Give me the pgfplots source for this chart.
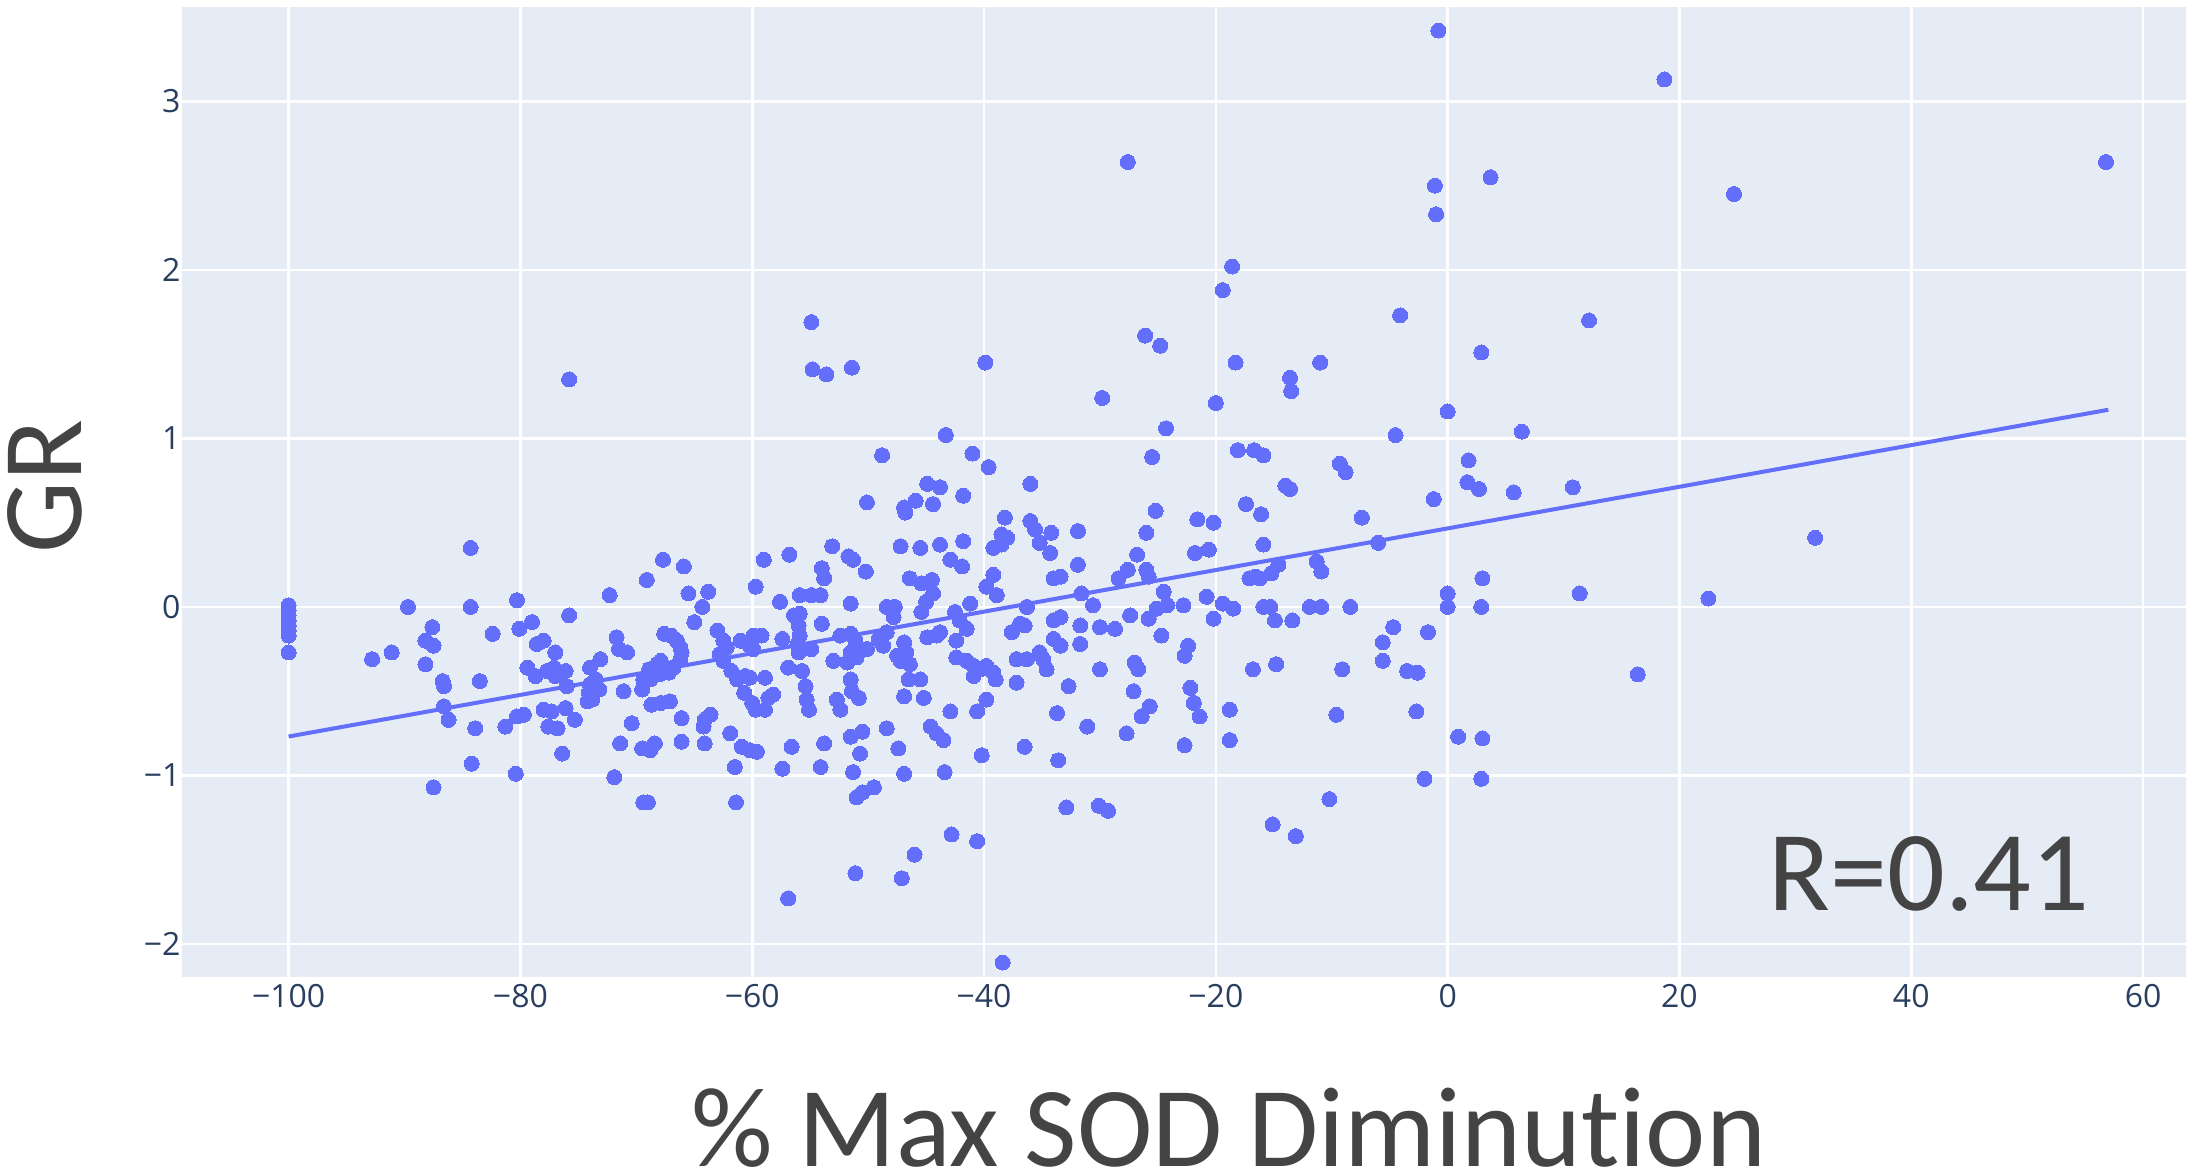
\documentclass[border=0pt]{standalone}
\usepackage{fontspec}
\setmainfont{Carlito}[Ligatures={NoCommon}]
\newfontfamily\tickfont{Open Sans}
\usepackage{pgfplots}
\pgfplotsset{compat=1.18}
\definecolor{bgc}{HTML}{E5ECF6}
\definecolor{dotc}{HTML}{636EFA}
\definecolor{tickc}{HTML}{2A3F5F}
\definecolor{labc}{HTML}{444444}
\begin{document}
\begin{tikzpicture}
\useasboundingbox (-91pt,-98.5pt) rectangle (1004pt,488.5pt);
\begin{axis}[
  scale only axis, width=1002pt, height=485pt,
  xmin=-109.2, xmax=63.7, ymin=-2.196, ymax=3.56,
  axis background/.style={fill=bgc},
  axis line style={draw=none},
  major tick length=0pt,
  grid=major, grid style={white, line width=1.3pt},
  xtick={-100,-80,-60,-40,-20,0,20,40,60},
  xticklabels={−100,−80,−60,−40,−20,0,20,40,60},
  ytick={-2,-1,0,1,2,3},
  yticklabels={−2,−1,0,1,2,3},
  ticklabel style={font=\tickfont\fontsize{16}{16}\selectfont, text=tickc},
  yticklabel style={xshift=2.8pt},
]
\addplot[color=dotc, only marks, mark=*, mark size=3.75pt, mark options={draw=dotc, fill=dotc, line width=0pt}] coordinates {
(-100,0.01)(-100,-0.02)(-100,-0.05)(-100,-0.08)(-100,-0.11)(-100,-0.14)(-100,-0.17)(-100,-0.27)
(-84.3,0.35)(-89.7,0.0)(-84.3,0.0)(-80.3,0.04)(-72.3,0.07)(-69.1,0.16)(-67.7,0.28)(-65.9,0.24)(-65.5,0.08)(-63.8,0.09)(-64.3,0.0)(-65.0,-0.09)
(-87.6,-0.12)(-88.2,-0.20)(-87.5,-0.23)(-92.8,-0.31)(-91.1,-0.27)(-88.2,-0.34)(-86.7,-0.44)(-86.6,-0.47)(-86.6,-0.59)(-86.2,-0.67)(-83.5,-0.44)(-82.4,-0.16)(-75.8,-0.05)(-83.9,-0.72)(-84.2,-0.93)(-81.3,-0.71)(-80.3,-0.65)(-79.7,-0.64)(-80.4,-0.99)(-80.1,-0.13)(-79.0,-0.09)(-78.6,-0.22)(-78.0,-0.20)(-77.0,-0.27)(-79.4,-0.36)(-78.7,-0.41)(-77.7,-0.38)(-77.1,-0.36)(-77.0,-0.41)(-76.1,-0.38)(-76.0,-0.47)(-78.0,-0.61)(-77.3,-0.62)(-77.6,-0.71)(-76.8,-0.72)(-76.4,-0.87)(-76.1,-0.60)(-75.3,-0.67)(-74.2,-0.56)(-70.4,-0.69)(-71.9,-1.01)
(-71.5,-0.25)(-70.8,-0.27)(-71.7,-0.18)(-73.1,-0.31)(-74.0,-0.36)(-73.5,-0.43)(-74.0,-0.46)(-73.2,-0.49)(-74.1,-0.51)(-73.8,-0.55)(-71.4,-0.81)(-69.5,-0.84)(-68.8,-0.85)(-68.4,-0.81)(-71.1,-0.50)
(-69.4,-0.43)(-69.5,-0.49)(-68.9,-0.37)(-68.2,-0.34)(-67.9,-0.32)(-67.6,-0.37)(-68.0,-0.40)(-67.2,-0.39)(-68.8,-0.43)
(-67.6,-0.16)(-67.0,-0.17)(-66.5,-0.20)(-66.2,-0.24)(-66.1,-0.27)(-66.2,-0.31)(-66.8,-0.36)(-68.7,-0.58)(-67.9,-0.57)(-67.1,-0.56)(-66.1,-0.66)(-64.1,-0.67)(-63.6,-0.64)(-64.2,-0.71)(-66.1,-0.80)(-64.1,-0.81)
(-63.0,-0.14)(-62.5,-0.20)(-62.2,-0.24)(-62.8,-0.28)(-62.5,-0.32)(-61.8,-0.38)(-61.3,-0.43)(-61.9,-0.75)(-61.5,-0.95)
(-75.8,1.35)(-87.5,-1.07)(-69.4,-1.16)(-69.0,-1.16)(-61.4,-1.16)
(-44.9,0.73)(-43.8,0.71)(-36.0,0.73)(-50.1,0.62)(-46.9,0.59)(-46.8,0.56)(-45.9,0.63)(-44.4,0.61)(-41.8,0.66)(-25.2,0.57)(-21.6,0.52)(-20.2,0.50)
(-38.2,0.53)(-36.0,0.51)(-35.6,0.46)(-34.2,0.44)(-31.9,0.45)(-26.0,0.44)(-59.0,0.28)(-56.8,0.31)(-53.1,0.36)(-51.7,0.30)(-51.3,0.28)(-54.0,0.23)(-53.8,0.17)(-50.2,0.21)(-47.2,0.36)(-45.5,0.35)(-43.8,0.37)(-41.8,0.39)(-42.9,0.28)(-41.9,0.24)(-39.2,0.35)(-38.5,0.37)(-38.0,0.41)(-38.5,0.43)(-35.2,0.38)(-34.3,0.32)(-39.2,0.19)(-39.8,0.12)(-38.9,0.07)(-34.0,0.17)(-33.4,0.18)(-31.9,0.25)(-28.4,0.17)(-27.6,0.22)(-26.8,0.31)(-26.0,0.22)(-25.8,0.18)(-21.8,0.32)(-20.6,0.34)
(-59.7,0.12)(-57.6,0.03)(-55.9,0.07)(-54.9,0.07)(-54.1,0.07)(-51.5,0.02)(-46.4,0.17)(-45.4,0.14)(-44.5,0.16)(-44.4,0.08)(-45.0,0.03)(-45.4,-0.03)(-48.4,0.00)(-47.7,0.00)(-47.8,-0.06)(-41.2,0.02)(-42.5,-0.03)(-42.1,-0.08)(-36.3,0.00)(-31.6,0.08)(-30.6,0.01)(-27.4,-0.05)(-24.5,0.09)(-24.2,0.01)(-25.1,-0.01)(-22.8,0.01)(-20.8,0.06)(-20.2,-0.07)
(-25.8,-0.07)(-30.0,-0.12)(-28.7,-0.13)(-31.7,-0.11)(-31.7,-0.22)(-34.0,-0.08)(-33.4,-0.06)(-34.0,-0.19)(-33.4,-0.23)(-37.6,-0.15)(-36.9,-0.10)(-36.5,-0.11)(-24.7,-0.17)(-22.4,-0.23)(-22.7,-0.29)
(-56.4,-0.05)(-55.9,-0.04)(-56.0,-0.11)(-55.9,-0.17)(-56.1,-0.22)(-56.0,-0.27)(-54.0,-0.10)(-54.9,-0.25)(-57.4,-0.19)(-59.9,-0.17)(-59.2,-0.17)(-60.2,-0.23)(-59.9,-0.25)
(-52.4,-0.17)(-51.5,-0.16)(-51.1,-0.20)(-50.8,-0.25)(-50.1,-0.25)(-51.5,-0.27)(-51.0,-0.30)(-53.0,-0.32)(-51.8,-0.33)(-51.5,-0.43)(-51.4,-0.50)(-50.8,-0.54)(-52.7,-0.55)(-52.4,-0.61)
(-49.1,-0.19)(-48.7,-0.23)(-48.4,-0.15)(-46.9,-0.21)(-46.7,-0.27)(-47.5,-0.29)(-47.2,-0.32)(-46.4,-0.34)(-46.5,-0.43)(-45.5,-0.43)(-46.9,-0.53)(-45.2,-0.54)
(-44.9,-0.18)(-44.1,-0.17)(-43.8,-0.15)(-42.4,-0.20)(-41.5,-0.13)
(-42.4,-0.30)(-41.5,-0.32)(-40.9,-0.35)(-40.3,-0.37)(-39.8,-0.35)(-39.2,-0.39)(-40.9,-0.41)(-39.0,-0.43)(-39.8,-0.55)(-40.6,-0.62)(-42.9,-0.62)
(-37.2,-0.31)(-36.3,-0.31)(-35.2,-0.27)(-34.9,-0.31)(-34.6,-0.37)(-37.2,-0.45)(-32.7,-0.47)(-33.7,-0.63)(-31.1,-0.71)(-36.5,-0.83)(-33.6,-0.91)(-30.0,-0.37)
(-27.0,-0.33)(-26.7,-0.37)(-27.1,-0.50)(-25.7,-0.59)(-26.4,-0.65)(-27.7,-0.75)(-22.2,-0.48)(-21.9,-0.57)(-21.4,-0.65)(-22.7,-0.82)
(-61.0,-0.20)(-60.6,-0.41)(-60.2,-0.42)(-58.9,-0.42)(-60.7,-0.51)(-60.0,-0.57)(-59.7,-0.61)(-58.6,-0.54)(-58.2,-0.52)(-58.9,-0.61)
(-56.9,-0.36)(-55.7,-0.38)(-55.4,-0.47)(-55.3,-0.55)(-55.1,-0.61)
(-60.9,-0.83)(-60.2,-0.85)(-59.6,-0.86)(-57.4,-0.96)(-56.6,-0.83)(-54.1,-0.95)(-53.8,-0.81)(-51.5,-0.77)(-50.5,-0.74)(-50.7,-0.87)(-51.3,-0.98)(-48.4,-0.72)(-47.4,-0.84)(-46.9,-0.99)(-44.6,-0.71)(-44.1,-0.75)(-43.5,-0.79)(-43.4,-0.98)(-40.2,-0.88)
(-17.4,0.61)(-16.1,0.55)(-15.9,0.37)(-14.0,0.72)(-13.6,0.70)(-7.4,0.53)(-6.0,0.38)(-1.2,0.64)(1.7,0.74)(2.7,0.70)(5.7,0.68)(10.8,0.71)
(-17.1,0.17)(-16.2,0.17)(-16.6,0.18)(-15.2,0.20)(-14.6,0.25)(-11.3,0.27)(-10.9,0.21)
(-19.4,0.02)(-18.5,-0.01)(-15.9,0.00)(-15.3,0.00)(-14.9,-0.08)(-13.4,-0.08)(-11.9,0.00)(-10.9,0.00)(-8.4,0.00)(0.0,0.08)(0.0,0.00)(2.9,0.00)(3.0,0.17)(11.4,0.08)
(-4.7,-0.12)(-5.6,-0.21)(-5.6,-0.32)(-1.7,-0.15)(-3.5,-0.38)(-2.6,-0.39)(-16.8,-0.37)(-14.8,-0.34)(-9.1,-0.37)(16.4,-0.40)
(-18.8,-0.61)(-18.8,-0.79)(-9.6,-0.64)(-2.7,-0.62)(0.9,-0.77)(3.0,-0.78)(-2.0,-1.02)(2.9,-1.02)
(-54.9,1.69)(-54.8,1.41)(-53.6,1.38)(-51.4,1.42)(-48.8,0.90)(-43.3,1.02)(-41.0,0.91)(-39.9,1.45)(-39.6,0.83)(-29.8,1.24)(-27.6,2.64)(-26.1,1.61)(-25.5,0.89)(-24.8,1.55)(-24.3,1.06)
(-20.0,1.21)(-19.4,1.88)(-18.6,2.02)(-18.3,1.45)(-18.1,0.93)(-16.7,0.93)(-15.9,0.90)(-13.6,1.36)(-13.5,1.28)(-11.0,1.45)(-9.3,0.85)(-8.8,0.80)(-4.5,1.02)(-4.1,1.73)(-1.1,2.50)(-1.0,2.33)(-0.8,3.42)(0.0,1.16)(1.8,0.87)(2.9,1.51)(3.7,2.55)(6.4,1.04)(12.2,1.70)(18.7,3.13)(24.7,2.45)(56.8,2.64)
(22.5,0.05)(31.7,0.41)
(-56.9,-1.73)(-51.1,-1.58)(-51.0,-1.13)(-50.5,-1.10)(-49.5,-1.07)(-47.1,-1.61)(-46.0,-1.47)(-42.8,-1.35)(-40.6,-1.39)(-38.4,-2.11)(-32.9,-1.19)(-30.1,-1.18)(-29.3,-1.21)(-15.1,-1.29)(-13.1,-1.36)(-10.2,-1.14)
};
\addplot[dotc, line width=2pt] coordinates {(-100,-0.769) (57,1.170)};
\end{axis}
\node[anchor=base, inner sep=0pt, text=labc, font=\fontsize{57}{60}\selectfont] at (523.5pt,-94.5pt) {\% Max SOD Diminution};
\node[anchor=base, inner sep=0pt, rotate=90, text=labc, font=\fontsize{57}{60}\selectfont] at (-50pt,245pt) {GR};
\node[anchor=base, inner sep=0pt, text=labc, font=\fontsize{57}{60}\selectfont] at (873.5pt,33.5pt) {R=0.41};
\end{tikzpicture}
\end{document}
